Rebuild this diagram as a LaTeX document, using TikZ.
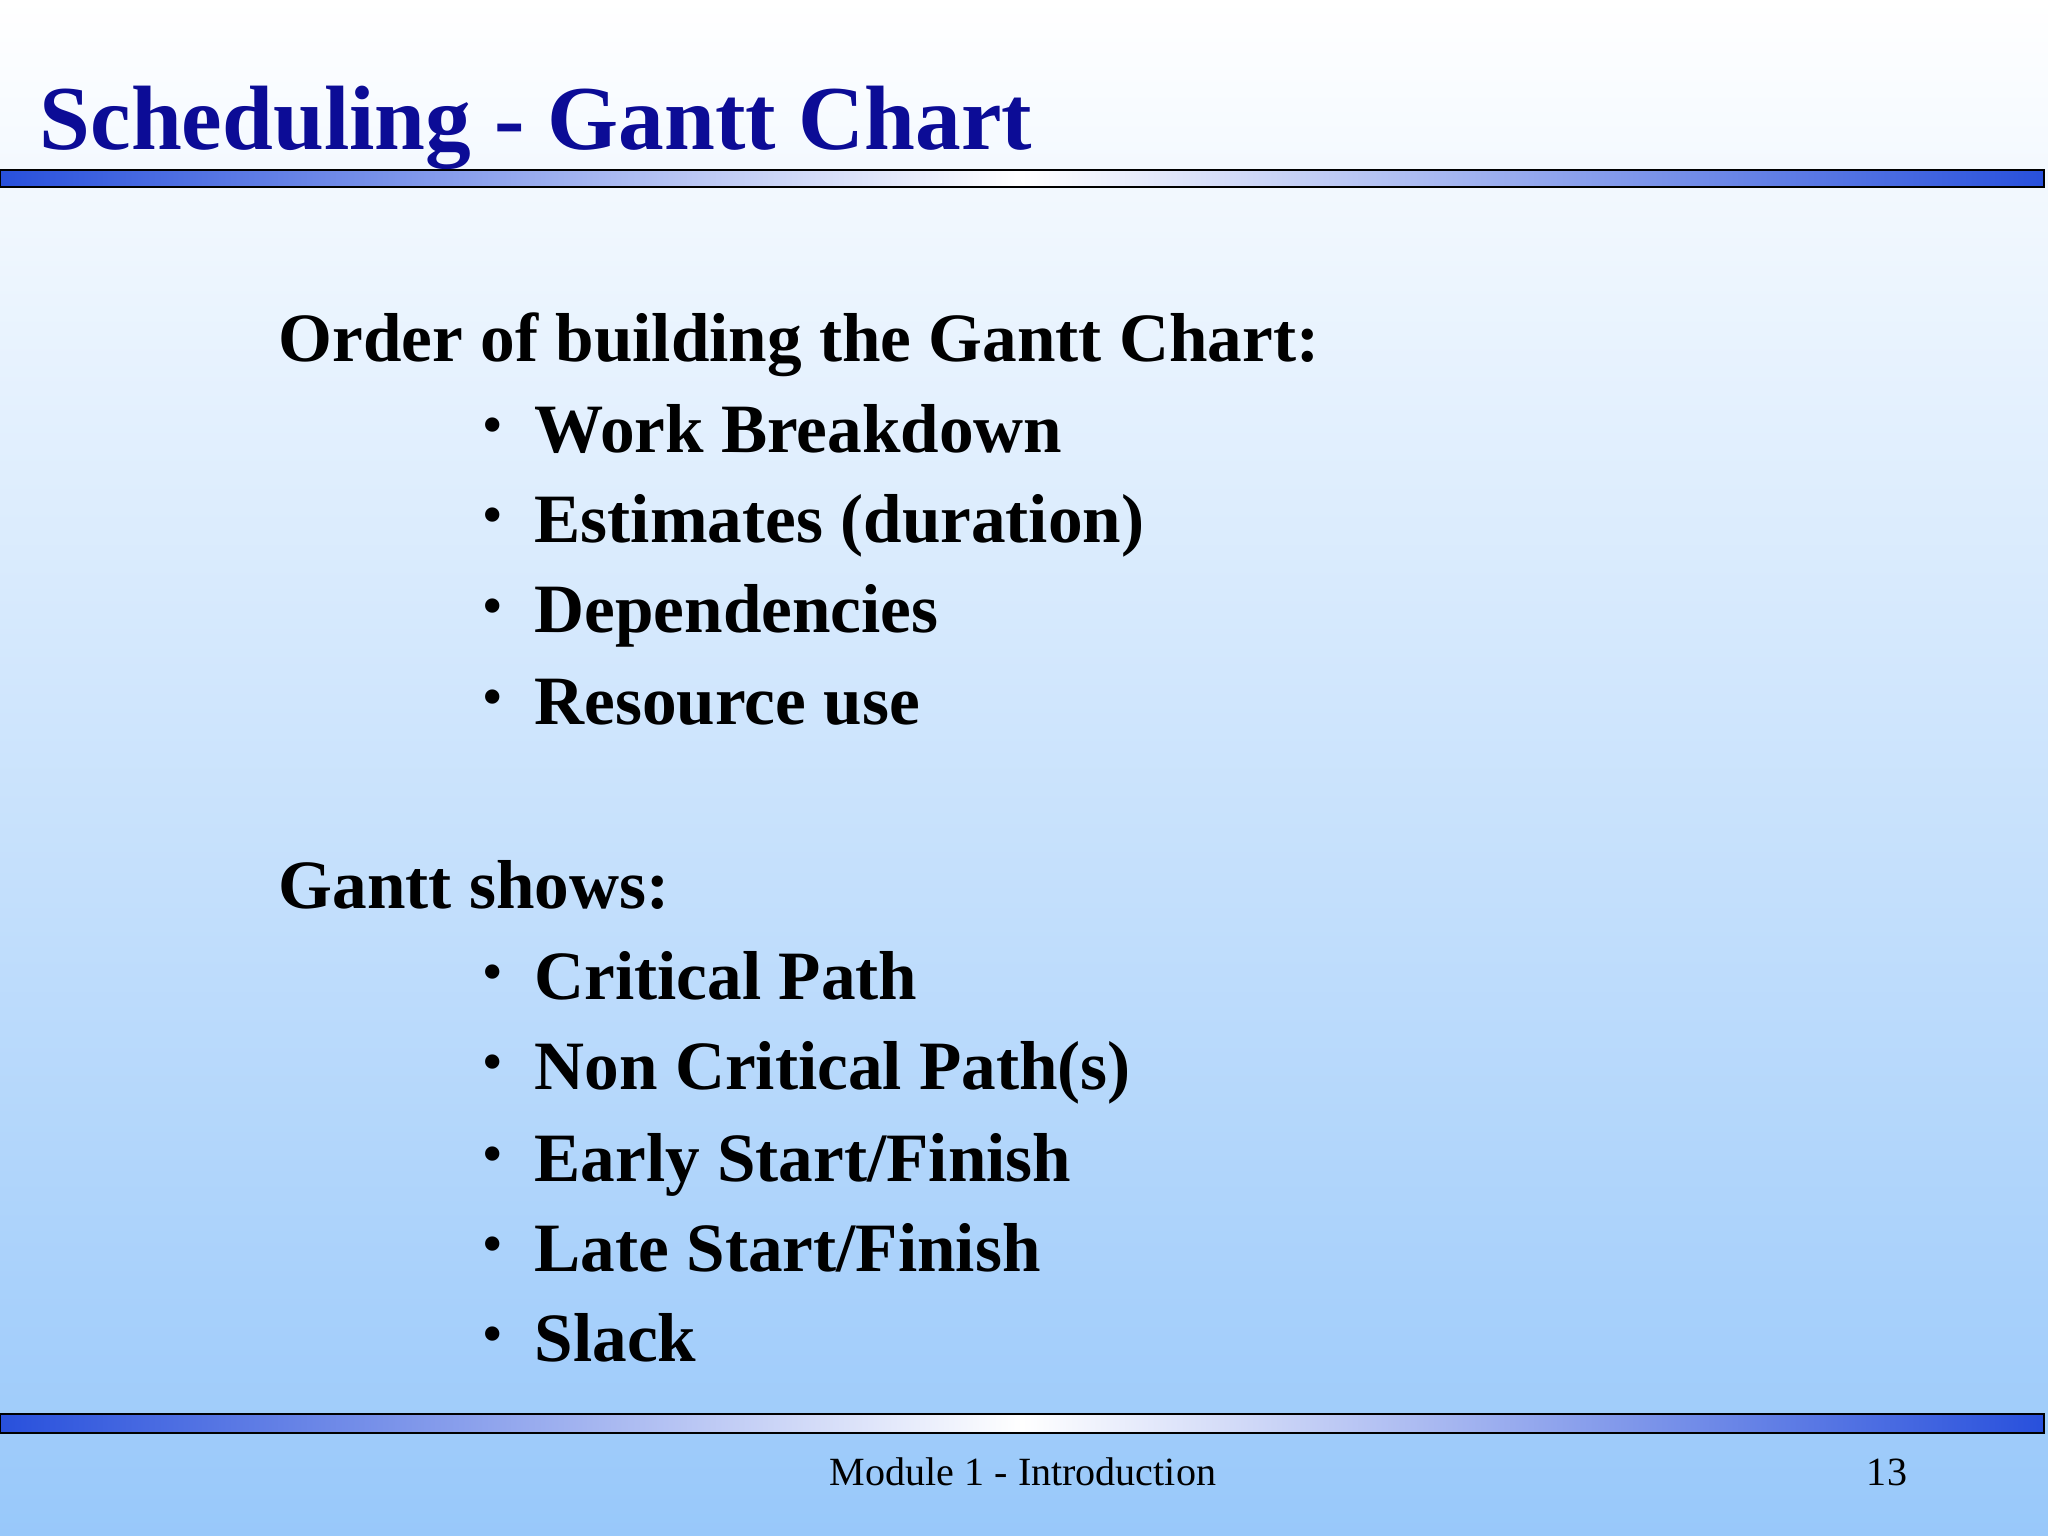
\documentclass[tikz,border=0pt]{standalone}
\usepackage{fontspec}
\setmainfont{Liberation Serif}
\definecolor{ttl}{RGB}{12,12,150}
\definecolor{bgb}{RGB}{152,200,250}
\definecolor{barb}{RGB}{40,80,220}
\begin{document}
\begin{tikzpicture}[x=1cm,y=1cm,
  hd/.style={anchor=base west,font=\fontsize{19.7}{24}\selectfont\bfseries,inner sep=0},
  bul/.style={anchor=base west,font=\fontsize{15}{18}\selectfont\bfseries,inner sep=0},
  itm/.style={anchor=base west,font=\fontsize{19.7}{24}\selectfont\bfseries,inner sep=0},
  bar/.style={draw=black,line width=0.5pt,left color=barb,right color=barb,middle color=white}]
\useasboundingbox (0,0) rectangle (20.48,-15.36);
\shade[top color=white,bottom color=bgb] (0,0) rectangle (20.48,-15.36);
\node[anchor=base west,inner sep=0,text=ttl,font=\fontsize{26}{30}\selectfont\bfseries] (title) at (0.39,-1.50) {Scheduling - Gantt Chart};
\shade[bar] (0,-1.70) rectangle (20.44,-1.87);
\shade[bar] (0,-14.14) rectangle (20.44,-14.33);
\node[hd] (h1) at (2.78,-3.62) {Order of building the Gantt Chart:};
\foreach \y/\t [count=\i] in {4.53/{Work Breakdown},5.43/{Estimates (duration)},6.33/{Dependencies},7.25/{Resource use}}{
  \node[bul] (ba\i) at (4.83,-\y+0.1) {•};
  \node[itm] (ia\i) at (5.34,-\y) {\t};}
\node[hd] (h2) at (2.78,-9.08) {Gantt shows:};
\foreach \y/\t [count=\i] in {9.99/{Critical Path},10.89/{Non Critical Path(s)},11.81/{Early Start/Finish},12.71/{Late Start/Finish},13.61/{Slack}}{
  \node[bul] (bb\i) at (4.83,-\y+0.1) {•};
  \node[itm] (ib\i) at (5.34,-\y) {\t};}
\node[anchor=base,inner sep=0,font=\fontsize{11.4}{14}\selectfont] (foot) at (10.23,-14.85) {Module 1 - Introduction};
\node[anchor=base,inner sep=0,font=\fontsize{11.4}{14}\selectfont] (pg) at (18.87,-14.85) {13};
\end{tikzpicture}
\end{document}
